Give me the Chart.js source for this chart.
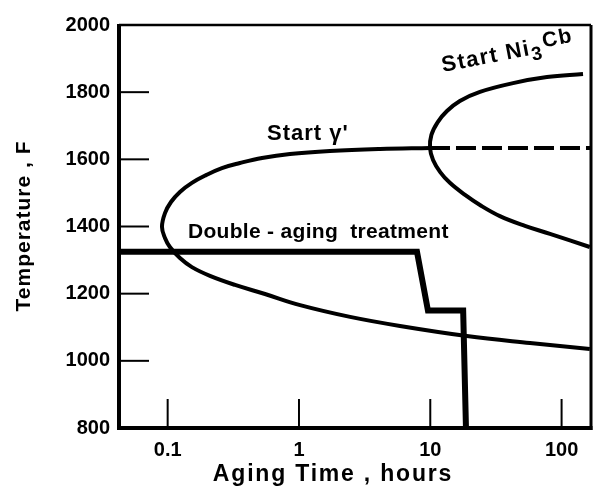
<!DOCTYPE html>
<html>
<head>
<meta charset="utf-8">
<script src="https://cdn.jsdelivr.net/npm/chart.js@4"></script>
<style>
  html, body { margin: 0; padding: 0; background: #fff; }
</style>
</head>
<body>
<canvas id="ttt" width="594" height="495"></canvas>
<script>
const xMin = 0.0426;
const xMax = 167.5;
const xTicks = [0.1, 1, 10, 100];
const yTicks = [1000, 1200, 1400, 1600, 1800];

// start of gamma prime: upper branch from right to the nose, then lower branch
const gammaTime = [9.95, 4.14, 1.72, 0.854, 0.523, 0.355, 0.259, 0.196, 0.153, 0.124, 0.106, 0.0954, 0.0905,
                   0.0954, 0.104, 0.124, 0.153, 0.210, 0.326, 0.551, 1.02, 2.45, 5.88, 19.0, 57.5, 164];
const gammaTemp = [1634, 1631, 1625, 1616, 1604, 1589, 1574, 1553, 1530, 1503, 1473, 1440, 1399,
                   1366, 1339, 1306, 1279, 1253, 1226, 1199, 1166, 1131, 1104, 1074, 1053, 1035];

// start of Ni3Cb: upper branch inward to the nose, then lower branch out
const ni3cbTime = [145.6, 77.4, 42.7, 23.9, 16.8, 13.4, 11.4, 10.2, 9.95, 10.5, 11.9, 14.1, 18.4, 23.9, 33.9, 52.6, 81.6, 164];
const ni3cbTemp = [1854, 1845, 1827, 1801, 1774, 1744, 1711, 1673, 1634, 1598, 1562, 1530, 1494, 1464, 1431, 1402, 1378, 1339];

// gamma prime start continued past the Ni3Cb nose
const dashTime = [9.95, xMax];
const dashTemp = [1634, 1634];

// double-aging treatment path
const agingTime = [xMin, 7.92, 9.6, 17.8, 18.7];
const agingTemp = [1325, 1325, 1150, 1150, 800];

const toPoints = (t, v) => t.map((x, i) => ({ x: x, y: v[i] }));

const FONT = '"Liberation Sans", Arial, sans-serif';

const decorations = {
  id: 'decorations',
  afterDatasetsDraw(chart) {
    const { ctx, chartArea: a, scales: { x, y } } = chart;
    ctx.save();
    ctx.strokeStyle = '#000';
    ctx.fillStyle = '#000';
    ctx.lineCap = 'butt';

    const seg = (w, x1, y1, x2, y2) => {
      ctx.lineWidth = w;
      ctx.beginPath();
      ctx.moveTo(x1, y1);
      ctx.lineTo(x2, y2);
      ctx.stroke();
    };
    // frame, heavier on left and bottom
    seg(2.5, a.left, a.top, a.right, a.top);
    seg(3, a.right, a.top, a.right, a.bottom + 2);
    seg(4, a.left, a.top - 1, a.left, a.bottom + 2);
    seg(4, a.left - 2, a.bottom, a.right + 1.5, a.bottom);

    // inward tick marks
    xTicks.forEach(v => {
      const px = x.getPixelForValue(v);
      seg(2, px, a.bottom, px, a.bottom - 29);
    });
    yTicks.forEach(v => {
      const py = y.getPixelForValue(v);
      seg(2, a.left, py, a.left + 30, py);
    });

    ctx.textBaseline = 'alphabetic';
    ctx.textAlign = 'left';

    ctx.font = 'bold 22px ' + FONT;
    ctx.letterSpacing = '1px';
    ctx.fillText("Start \u03b3'", 267, 140);

    ctx.font = 'bold 21px ' + FONT;
    ctx.letterSpacing = '0.3px';
    ctx.fillText('Double - aging  treatment', 188, 238);

    // Start Ni3Cb, tilted along the curve
    ctx.save();
    ctx.translate(443, 72);
    ctx.rotate(-11 * Math.PI / 180);
    ctx.font = 'bold 22px ' + FONT;
    ctx.letterSpacing = '1.5px';
    ctx.fillText('Start Ni', 0, 0);
    let w = ctx.measureText('Start Ni').width;
    ctx.font = 'bold 19px ' + FONT;
    ctx.fillText('3', w, 6);
    w += ctx.measureText('3').width + 1;
    ctx.font = 'bold 21px ' + FONT;
    ctx.fillText('Cb', w, -5);
    ctx.restore();

    // axis titles
    ctx.font = 'bold 23px ' + FONT;
    ctx.letterSpacing = '1.8px';
    ctx.textAlign = 'center';
    ctx.fillText('Aging Time , hours', 333, 481);

    ctx.save();
    ctx.translate(30, 226);
    ctx.rotate(-Math.PI / 2);
    ctx.font = 'bold 21px ' + FONT;
    ctx.letterSpacing = '1px';
    ctx.fillText('Temperature , F', 0, 0);
    ctx.restore();

    ctx.restore();
  }
};

new Chart(document.getElementById('ttt'), {
  type: 'scatter',
  data: {
    datasets: [
      { data: toPoints(gammaTime, gammaTemp), borderWidth: 4, tension: 0.4 },
      { data: toPoints(ni3cbTime, ni3cbTemp), borderWidth: 4, tension: 0.4 },
      { data: toPoints(dashTime, dashTemp), borderWidth: 4, borderDash: [20, 6] },
      { data: toPoints(agingTime, agingTemp), borderWidth: 6, borderJoinStyle: 'miter' }
    ].map(d => Object.assign({
      showLine: true,
      borderColor: '#000',
      pointRadius: 0,
      fill: false
    }, d))
  },
  options: {
    responsive: false,
    animation: false,
    layout: { padding: { top: 25, right: 3, left: 0, bottom: 0 } },
    plugins: {
      legend: { display: false },
      tooltip: { enabled: false }
    },
    scales: {
      x: {
        type: 'logarithmic',
        min: xMin,
        max: xMax,
        afterBuildTicks: scale => { scale.ticks = xTicks.map(v => ({ value: v })); },
        afterFit: scale => { scale.height = 67; },
        grid: { display: false, drawTicks: false },
        border: { display: false },
        ticks: {
          color: '#000',
          padding: 10,
          maxRotation: 0,
          autoSkip: false,
          font: { family: FONT, size: 20, weight: 'bold' },
          callback: value => String(value)
        }
      },
      y: {
        min: 800,
        max: 2000,
        afterFit: scale => { scale.width = 119; },
        grid: { display: false, drawTicks: false },
        border: { display: false },
        ticks: {
          color: '#000',
          stepSize: 200,
          padding: 9,
          font: { family: FONT, size: 20, weight: 'bold' },
          callback: value => String(value)
        }
      }
    }
  },
  plugins: [decorations]
});
</script>
</body>
</html>
